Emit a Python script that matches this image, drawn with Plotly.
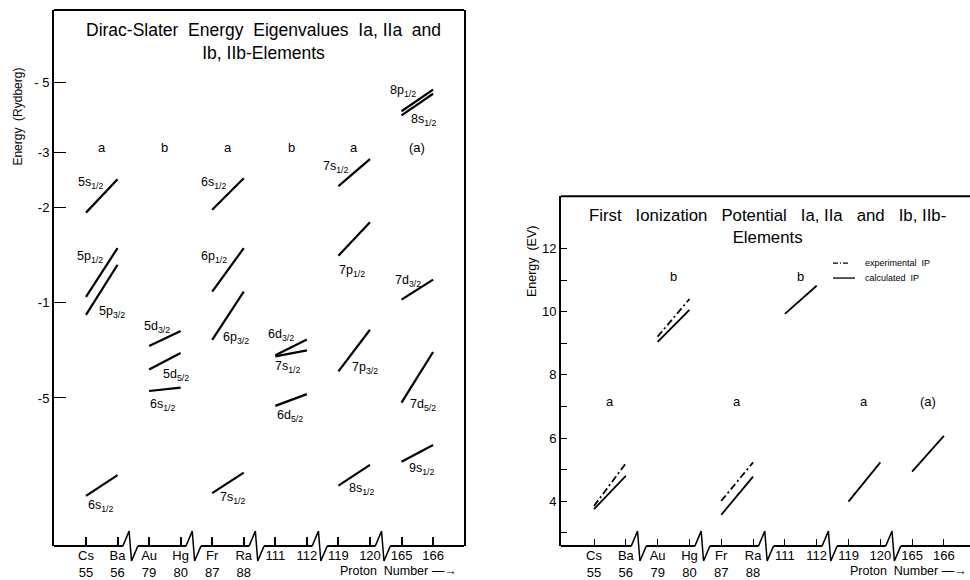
import math
import plotly.graph_objects as go

# ---------------- data ----------------
elements = ["Cs", "Ba", "Au", "Hg", "Fr", "Ra", "111", "112", "119", "120", "165", "166"]
proton_numbers = ["55", "56", "79", "80", "87", "88", "", "", "", "", "", ""]
pair_groups = ["a", "b", "a", "b", "a", "(a)"]

# Left panel: Dirac-Slater eigenvalues (Rydberg); each level is a line from the
# first element of a pair (pair index p -> elements 2p, 2p+1) to the second.
lvl_pair = [0, 0, 0, 0,
            1, 1, 1,
            2, 2, 2, 2,
            3, 3, 3,
            4, 4, 4, 4,
            5, 5, 5, 5, 5]
lvl_name = ["5s<sub>1/2</sub>", "5p<sub>1/2</sub>", "5p<sub>3/2</sub>", "6s<sub>1/2</sub>",
            "5d<sub>3/2</sub>", "5d<sub>5/2</sub>", "6s<sub>1/2</sub>",
            "6s<sub>1/2</sub>", "6p<sub>1/2</sub>", "6p<sub>3/2</sub>", "7s<sub>1/2</sub>",
            "6d<sub>3/2</sub>", "7s<sub>1/2</sub>", "6d<sub>5/2</sub>",
            "7s<sub>1/2</sub>", "7p<sub>1/2</sub>", "7p<sub>3/2</sub>", "8s<sub>1/2</sub>",
            "8p<sub>1/2</sub>", "8s<sub>1/2</sub>", "7d<sub>3/2</sub>", "7d<sub>5/2</sub>", "9s<sub>1/2</sub>"]
lvl_E_first = [-1.93, -1.045, -0.916, -0.245,
               -0.730, -0.615, -0.526,
               -1.97, -1.085, -0.764, -0.250,
               -0.682, -0.677, -0.472,
               -2.34, -1.41, -0.607, -0.264,
               -4.04, -3.92, -1.024, -0.483, -0.314]
lvl_E_second = [-2.46, -1.49, -1.32, -0.285,
                -0.814, -0.694, -0.539,
                -2.48, -1.49, -1.085, -0.290,
                -0.766, -0.707, -0.514,
                -2.85, -1.80, -0.822, -0.307,
                -4.73, -4.59, -1.184, -0.699, -0.355]
left_yticks = [0.5, 1, 2, 3, 5]
left_yticktext = ["-5", "-1", "-2", "-3", "- 5"]

# Right panel: first ionization potential (eV)
ip_calc_first = [3.75, 9.04, 3.57, 9.93, 3.99, 4.94]
ip_calc_second = [4.80, 10.06, 4.78, 10.82, 5.23, 6.07]
ip_exp_pairs = [0, 1, 2]
ip_exp_first = [3.85, 9.21, 4.01]
ip_exp_second = [5.20, 10.40, 5.23]

# ---------------- layout helpers (positions / styles) ----------------
W, H = 970, 580
FONT = "Liberation Sans"


def pxx(x):
    return x / W


def pxy(y):
    return 1 - y / H


# label placement relative to a line end ('s' start / 'e' end), pixel offsets
lbl_anchor = ["e", "e", "s", "s",
              "s", "e", "s",
              "e", "e", "s", "s",
              "s", "s", "s",
              "e", "s", "s", "s",
              "s", "e", "s", "s", "s"]
lbl_dx = [-27, -28, 26, 15,
          8, -5, 14,
          -30, -30, 24, 21,
          6, 13, 15,
          -34, 14, 27, 24,
          1, -9, 6, 21, 20]
lbl_dy = [4, 9, -3, 10,
          -19, 22, 14,
          5, 9, -2, 5,
          -20, 11, 10,
          8, 15, -3, 3,
          -20, 26, -19, 2, 7]
left_group_y = 3.1
right_group_y = [7.15, 11.1, 7.15, 11.1, 7.15, 7.15]

L_DOM_X = [pxx(54), pxx(464)]
L_DOM_Y = [pxy(548), pxy(10)]
R_DOM_X = [pxx(561), 1.0]
R_DOM_Y = [pxy(548), pxy(197)]
L_XR = [-1.014, 11.98]
L_YR = [-0.770, 0.927]
R_XR = [-1.038, 11.82]
R_YR = [2.58, 13.65]
L_SP = 31.55   # px per category
R_SP = 31.8

fig = go.Figure()

# left panel level lines
for p, e1, e2 in zip(lvl_pair, lvl_E_first, lvl_E_second):
    fig.add_trace(go.Scatter(x=[2 * p, 2 * p + 1], y=[-e1, -e2], mode="lines",
                             line=dict(color="black", width=2.2), xaxis="x", yaxis="y",
                             showlegend=False, hoverinfo="skip"))

# right panel lines
for p, (c1, c2) in enumerate(zip(ip_calc_first, ip_calc_second)):
    fig.add_trace(go.Scatter(x=[2 * p, 2 * p + 1], y=[c1, c2], mode="lines",
                             line=dict(color="black", width=1.8), xaxis="x2", yaxis="y2",
                             showlegend=False, hoverinfo="skip"))
for p, e1, e2 in zip(ip_exp_pairs, ip_exp_first, ip_exp_second):
    fig.add_trace(go.Scatter(x=[2 * p, 2 * p + 1], y=[e1, e2], mode="lines",
                             line=dict(color="black", width=1.8, dash="7px,3px,2px,3px"),
                             xaxis="x2", yaxis="y2", showlegend=False, hoverinfo="skip"))


def ptext(x, y, text, size, xanchor="center", angle=0):
    return dict(x=pxx(x), y=pxy(y), xref="paper", yref="paper", showarrow=False,
                xanchor=xanchor, yanchor="middle", text=text, textangle=angle,
                font=dict(size=size, color="black", family=FONT))


annotations = []
# level labels
for p, e1, e2, name, anc, dx, dy in zip(lvl_pair, lvl_E_first, lvl_E_second, lvl_name,
                                        lbl_anchor, lbl_dx, lbl_dy):
    xa = 2 * p if anc == "s" else 2 * p + 1
    ya = math.log10(-e1) if anc == "s" else math.log10(-e2)
    annotations.append(dict(x=xa, y=ya, xref="x", yref="y", text=name, showarrow=False,
                            xanchor="center", yanchor="middle",
                            xshift=dx, yshift=-dy, font=dict(size=12.5, color="black", family=FONT)))
# group letters
for g, t in enumerate(pair_groups):
    annotations.append(dict(x=2 * g + 0.5, y=math.log10(left_group_y), xref="x", yref="y", text=t,
                            showarrow=False, xanchor="center", yanchor="middle",
                            font=dict(size=13, color="black", family=FONT)))
    annotations.append(dict(x=2 * g + 0.5, y=right_group_y[g], xref="x2", yref="y2", text=t,
                            showarrow=False, xanchor="center", yanchor="middle",
                            font=dict(size=13, color="black", family=FONT)))
# titles
annotations.append(ptext(263, 42, "Dirac-Slater  Energy  Eigenvalues  Ia, IIa  and<br>Ib, IIb-Elements", 17.5))
annotations.append(ptext(767, 227, "First   Ionization   Potential   Ia, IIa   and   Ib, IIb-<br>Elements", 16.8))
# axis titles
annotations.append(ptext(18, 117, "Energy  (Rydberg)", 12, angle=-90))
annotations.append(ptext(532, 262, "Energy  (EV)", 12.5, angle=-90))
# proton number labels
annotations.append(ptext(338, 573, "Proton  Number —→", 12.5, xanchor="left"))
annotations.append(ptext(848, 573, "Proton  Number —→", 12.5, xanchor="left"))
# legend text
annotations.append(ptext(863, 264, "experimental  IP", 9, xanchor="left"))
annotations.append(ptext(863, 279, "calculated  IP", 9, xanchor="left"))

shapes = []
# legend samples
shapes.append(dict(type="line", xref="paper", yref="paper", x0=pxx(833), x1=pxx(850),
                   y0=pxy(264), y1=pxy(264), line=dict(color="black", width=1.3, dash="5px,2px,1px,2px")))
shapes.append(dict(type="line", xref="paper", yref="paper", x0=pxx(833), x1=pxx(855),
                   y0=pxy(279), y1=pxy(279), line=dict(color="black", width=1.3)))

# top borders
for xr_, yr_ in (("x", "y"), ("x2", "y2")):
    shapes.append(dict(type="line", xref=xr_ + " domain", yref=yr_ + " domain", x0=0, x1=1,
                       y0=1, y1=1, line=dict(color="black", width=2)))


def broken_baseline(xref, yref, xr, dom_h_px, sp):
    out = []
    hw = 7.5 / sp
    zg = 1.2 / sp
    dy = 15 / dom_h_px
    breaks = [2 * i + 1.5 - 3.0 / sp for i in range(5)]
    starts = [xr[0]] + [b + hw for b in breaks]
    ends = [b - hw for b in breaks] + [xr[1]]
    for s, e in zip(starts, ends):
        out.append(dict(type="line", xref=xref, yref=yref + " domain", x0=s, x1=e, y0=0, y1=0,
                        line=dict(color="black", width=2)))
    for b in breaks:
        out.append(dict(type="path", xref=xref, yref=yref + " domain",
                        path=f"M {b - hw},0 L {b - zg},{dy} L {b + zg},{-dy} L {b + hw},0",
                        line=dict(color="black", width=1.5)))
    return out


shapes += broken_baseline("x", "y", L_XR, 538, L_SP)
shapes += broken_baseline("x2", "y2", R_XR, 351, R_SP)

xticktext = [f"{e}<br>{n}" if n else e + "<br> " for e, n in zip(elements, proton_numbers)]
tickfont = dict(size=13, color="black", family=FONT)

fig.update_layout(
    width=W, height=H, margin=dict(l=0, r=0, t=0, b=0, pad=0),
    paper_bgcolor="white", plot_bgcolor="white", showlegend=False,
    annotations=annotations, shapes=shapes,
    xaxis=dict(domain=L_DOM_X, range=L_XR, anchor="y", showgrid=False, zeroline=False,
               showline=False, tickmode="array", tickvals=list(range(12)), ticktext=xticktext,
               ticks="inside", ticklen=9, tickwidth=1.5, tickcolor="black", tickfont=tickfont),
    yaxis=dict(domain=L_DOM_Y, type="log", range=L_YR, anchor="x", showgrid=False,
               zeroline=False, showline=True, mirror=True, linecolor="black", linewidth=2,
               tickmode="array", tickvals=left_yticks, ticktext=left_yticktext,
               ticks="inside", ticklen=12, tickwidth=1.2, tickcolor="black", tickfont=tickfont),
    xaxis2=dict(domain=R_DOM_X, range=R_XR, anchor="y2", showgrid=False, zeroline=False,
                showline=False, tickmode="array", tickvals=list(range(12)), ticktext=xticktext,
                ticks="inside", ticklen=7, tickwidth=1.2, tickcolor="black", tickfont=tickfont),
    yaxis2=dict(domain=R_DOM_Y, range=R_YR, anchor="x2", showgrid=False, zeroline=False,
                showline=True, linecolor="black", linewidth=2,
                tickmode="array", tickvals=[4, 6, 8, 10, 12], ticks="inside", ticklen=6,
                tickwidth=1.2, tickcolor="black", tickfont=tickfont,
                minor=dict(tickmode="array", tickvals=[3, 5, 7, 9, 11], ticks="inside",
                           ticklen=6, tickcolor="black", tickwidth=1.2, showgrid=False)),
)

fig.write_html("out.html", config={"displayModeBar": False},
               post_script="document.body.style.margin='0px';document.body.style.overflow='hidden';")
